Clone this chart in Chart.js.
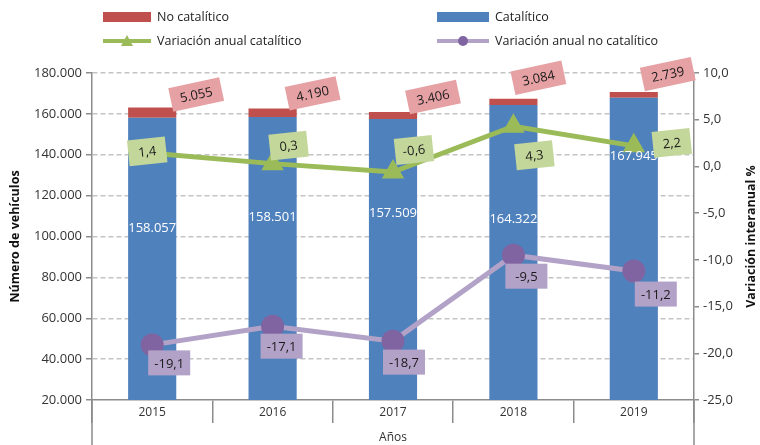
<!DOCTYPE html>
<html>
<head>
<meta charset="utf-8">
<script src="https://cdn.jsdelivr.net/npm/chart.js@4.4.1/dist/chart.umd.min.js"></script>
<style>
  html, body { margin: 0; padding: 0; background: #fff; }
</style>
</head>
<body>
<canvas id="chart" width="760" height="445"></canvas>
<script>
// ---------- Datos ----------
const ANIOS = ['2015', '2016', '2017', '2018', '2019'];
const CATALITICO = [158057, 158501, 157509, 164322, 167945];
const NO_CATALITICO = [5055, 4190, 3406, 3084, 2739];
const VAR_CATALITICO = [1.4, 0.3, -0.6, 4.3, 2.2];
const VAR_NO_CATALITICO = [-19.1, -17.1, -18.7, -9.5, -11.2];
const TICKS_VEHICULOS = [20000, 40000, 60000, 80000, 100000, 120000, 140000, 160000, 180000];
const TICKS_VARIACION = [-25, -20, -15, -10, -5, 0, 5, 10];

// desplazamientos de las etiquetas (colocadas a mano en el original)
const NUDGE_NO_CAT = [[44, -13], [40, -15], [40, -15], [25, -21], [34, -18]];
const NUDGE_VAR_CAT = [[-5, -2], [16, -18], [21, -22], [21, 29], [38, -3]];
const NUDGE_VAR_NO = [[17, 18], [9, 20], [11, 21], [13, 21], [22, 23]];
const NUDGE_CAT = [110, 100, 94, 114, 59];

const C_AZUL = '#4F81BD', C_ROJO = '#C0504D', C_VERDE = '#9BBB59';
const C_LILA = '#B3A2C7', C_MORADO = '#8064A2', C_EJE = '#8c8c8c', C_TXT = '#333';
const FONT = "'Open Sans', sans-serif";

const miles = n => String(n).replace(/\B(?=(\d{3})+(?!\d))/g, '.');
const dec = n => n.toFixed(1).replace('.', ',');

Chart.defaults.font.family = FONT;

// ---------- Etiquetas, leyenda y extras ----------
function caja(ctx, cx, cy, w, h, ang, fondo, texto, color) {
  ctx.save();
  ctx.translate(cx, cy);
  ctx.rotate(ang * Math.PI / 180);
  ctx.fillStyle = fondo;
  ctx.fillRect(-w / 2, -h / 2, w, h);
  ctx.fillStyle = color;
  ctx.font = '13px ' + FONT;
  ctx.textAlign = 'center';
  ctx.textBaseline = 'middle';
  ctx.fillText(texto, 0, 1);
  ctx.restore();
}

const etiquetas = {
  id: 'etiquetas',
  afterDatasetsDraw(chart) {
    const ctx = chart.ctx;
    const azul = chart.getDatasetMeta(0).data;
    const rojo = chart.getDatasetMeta(1).data;
    const verde = chart.getDatasetMeta(2).data;
    const lila = chart.getDatasetMeta(3).data;

    azul.forEach((el, i) => {
      ctx.save();
      ctx.fillStyle = '#fff';
      ctx.font = '13px ' + FONT;
      ctx.textAlign = 'center';
      ctx.textBaseline = 'middle';
      ctx.fillText(miles(CATALITICO[i]), el.x, el.y + NUDGE_CAT[i]);
      ctx.restore();
    });
    rojo.forEach((el, i) => {
      caja(ctx, el.x + NUDGE_NO_CAT[i][0], el.y + NUDGE_NO_CAT[i][1], 52, 24, -12,
        '#E6A1A4', miles(NO_CATALITICO[i]), '#1a1a1a');
    });
    verde.forEach((el, i) => {
      caja(ctx, el.x + NUDGE_VAR_CAT[i][0], el.y + NUDGE_VAR_CAT[i][1], 38, 26, -6,
        '#C4D79B', dec(VAR_CATALITICO[i]), '#1a1a1a');
    });
    lila.forEach((el, i) => {
      caja(ctx, el.x + NUDGE_VAR_NO[i][0], el.y + NUDGE_VAR_NO[i][1], 42, 25, 0,
        C_LILA, dec(VAR_NO_CATALITICO[i]), '#1a1a1a');
    });
  },
  afterDraw(chart) {
    const ctx = chart.ctx;
    const a = chart.chartArea;
    // ejes que bajan hasta el borde inferior
    ctx.save();
    ctx.strokeStyle = C_EJE;
    ctx.lineWidth = 1.5;
    ctx.beginPath();
    ctx.moveTo(a.left, a.bottom); ctx.lineTo(a.left, chart.height);
    ctx.moveTo(a.right, a.bottom); ctx.lineTo(a.right, chart.height);
    ctx.stroke();

    // titulo del eje derecho (leido de abajo arriba)
    ctx.translate(751, (a.top + a.bottom) / 2);
    ctx.rotate(-Math.PI / 2);
    ctx.fillStyle = '#111';
    ctx.font = 'bold 12.5px ' + FONT;
    ctx.textAlign = 'center';
    ctx.textBaseline = 'middle';
    ctx.fillText('Variación interanual %', 0, 0);
    ctx.restore();

    // leyenda
    const ds = chart.data.datasets;
    const items = [
      { d: ds[1], x: 103, y: 17, w: 48 },
      { d: ds[0], x: 437, y: 17, w: 52 },
      { d: ds[2], x: 103, y: 41, w: 48 },
      { d: ds[3], x: 437, y: 41, w: 52 },
    ];
    items.forEach(it => {
      ctx.save();
      if (it.d.type === 'line') {
        ctx.strokeStyle = it.d.borderColor;
        ctx.lineWidth = 4;
        ctx.beginPath();
        ctx.moveTo(it.x, it.y); ctx.lineTo(it.x + it.w, it.y);
        ctx.stroke();
        ctx.fillStyle = it.d.pointBackgroundColor;
        const cx = it.x + it.w / 2;
        ctx.beginPath();
        if (it.d.pointStyle === 'triangle') {
          ctx.moveTo(cx, it.y - 6); ctx.lineTo(cx + 6, it.y + 5); ctx.lineTo(cx - 6, it.y + 5);
        } else {
          ctx.arc(cx, it.y, 5, 0, Math.PI * 2);
        }
        ctx.fill();
      } else {
        ctx.fillStyle = it.d.backgroundColor;
        ctx.fillRect(it.x, it.y - 5, it.w, 10);
      }
      ctx.fillStyle = '#222';
      ctx.font = '12.5px ' + FONT;
      ctx.textBaseline = 'middle';
      ctx.fillText(it.d.label, it.x + it.w + 6, it.y);
      ctx.restore();
    });
  }
};

// ---------- Grafico ----------
new Chart(document.getElementById('chart'), {
  type: 'bar',
  data: {
    labels: ANIOS,
    datasets: [
      { label: 'Catalítico', data: CATALITICO, backgroundColor: C_AZUL, yAxisID: 'y', stack: 's', order: 2,
        barPercentage: 0.4, categoryPercentage: 1 },
      { label: 'No catalítico', data: NO_CATALITICO, backgroundColor: C_ROJO, yAxisID: 'y', stack: 's', order: 2,
        barPercentage: 0.4, categoryPercentage: 1 },
      { type: 'line', label: 'Variación anual catalítico', data: VAR_CATALITICO, yAxisID: 'y1', order: 0,
        borderColor: C_VERDE, borderWidth: 5, pointStyle: 'triangle', pointRadius: 8,
        pointBackgroundColor: C_VERDE, pointBorderColor: C_VERDE, tension: 0 },
      { type: 'line', label: 'Variación anual no catalítico', data: VAR_NO_CATALITICO, yAxisID: 'y1', order: 1,
        borderColor: C_LILA, borderWidth: 5, pointStyle: 'circle', pointRadius: 9,
        pointBackgroundColor: C_MORADO, pointBorderColor: C_MORADO, tension: 0 },
    ],
  },
  options: {
    responsive: false,
    animation: false,
    layout: { padding: { top: 73 } },
    plugins: { legend: { display: false }, tooltip: { enabled: false } },
    scales: {
      x: {
        stacked: true,
        grid: { offset: true, drawOnChartArea: false, color: C_EJE, lineWidth: 1.5, tickLength: 23 },
        border: { color: C_EJE, width: 1.5 },
        ticks: { color: C_TXT, font: { size: 12 }, padding: -18 },
        title: { display: true, text: 'Años', color: C_TXT, font: { size: 12 }, padding: { top: 0, bottom: 0 } },
        afterFit: s => { s.height = 45; },
      },
      y: {
        stacked: true,
        position: 'left',
        min: 20000, max: 180000,
        afterBuildTicks: s => { s.ticks = TICKS_VEHICULOS.map(v => ({ value: v })); },
        grid: {
          color: c => (c.tick && c.tick.value === 20000) ? 'rgba(0,0,0,0)' : '#c4c4c4',
          lineWidth: 1.5, tickLength: 6, tickColor: C_EJE,
        },
        border: { color: C_EJE, width: 1.5, dash: [5, 3] },
        ticks: { color: C_TXT, font: { size: 13 }, padding: 4, callback: v => miles(v) },
        title: { display: true, text: 'Número de vehículos', color: '#111', font: { size: 12.5, weight: 'bold' },
          padding: { top: 8, bottom: 0 } },
        afterFit: s => { s.width = 92; },
      },
      y1: {
        position: 'right',
        min: -25, max: 10,
        afterBuildTicks: s => { s.ticks = TICKS_VARIACION.map(v => ({ value: v })); },
        grid: { drawOnChartArea: false, tickLength: 5, color: C_EJE, lineWidth: 1.5 },
        border: { color: C_EJE, width: 1.5 },
        ticks: { color: C_TXT, font: { size: 13 }, padding: 4, callback: v => dec(v) },
        afterFit: s => { s.width = 66; },
      },
    },
  },
  plugins: [etiquetas],
});
</script>
</body>
</html>
